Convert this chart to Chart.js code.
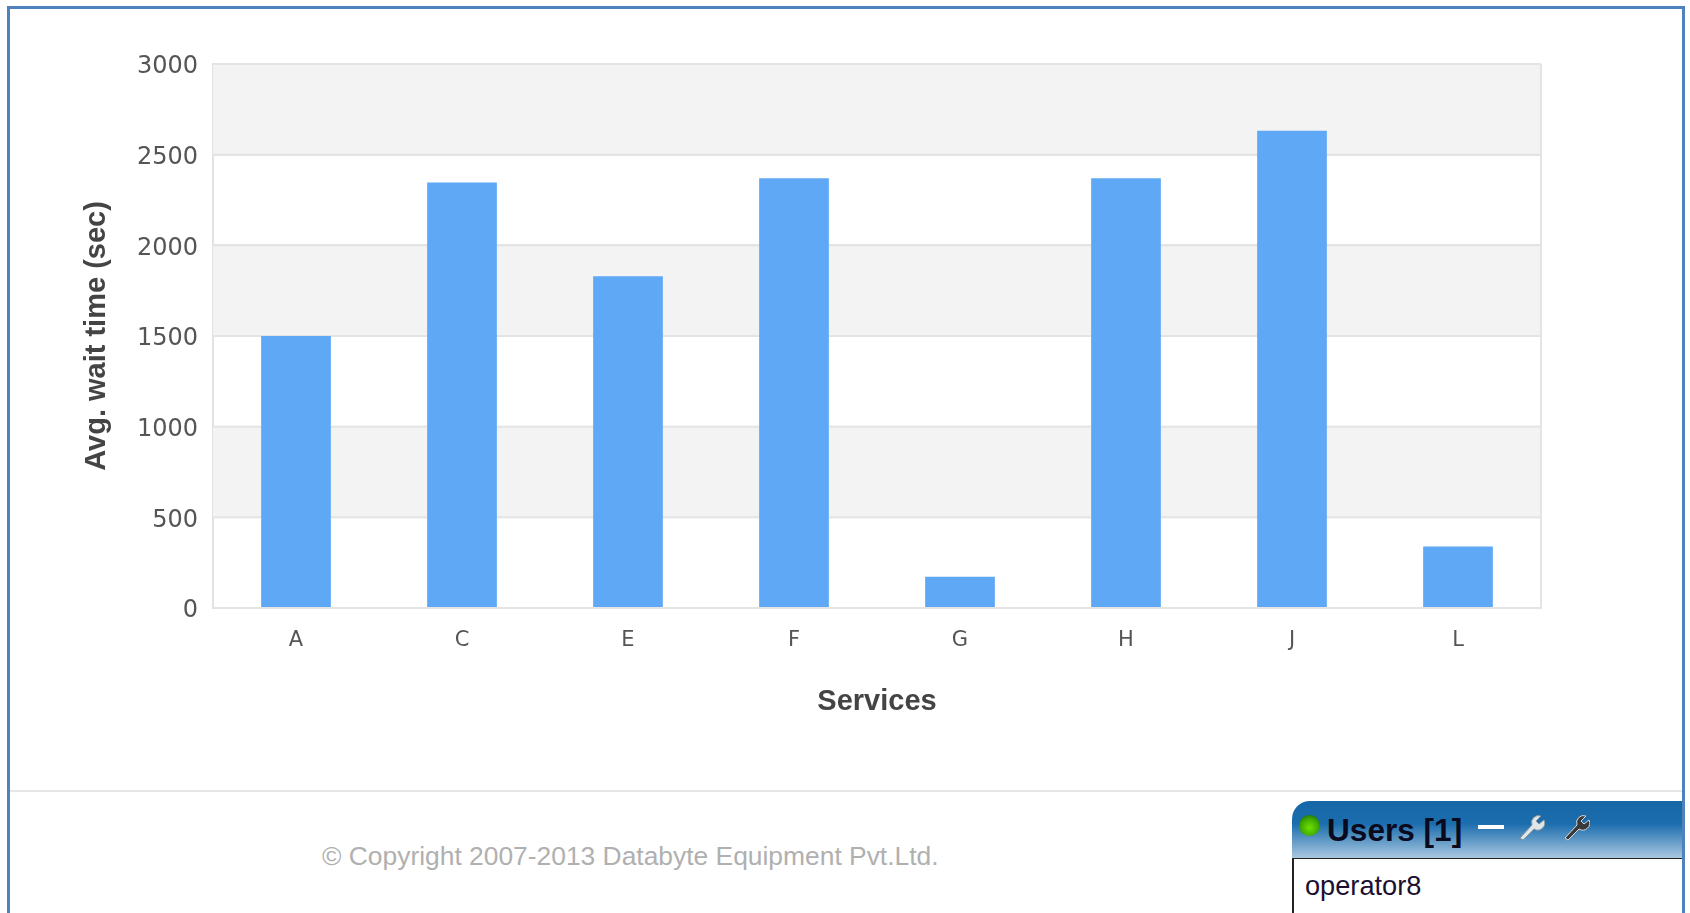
<!DOCTYPE html>
<html>
<head>
<meta charset="utf-8">
<title>Avg. wait time</title>
<script src="https://cdn.jsdelivr.net/npm/chart.js@4"></script>
<style>
  html, body { margin: 0; padding: 0; background: #fff; overflow: hidden; }
  #page { position: relative; width: 1690px; height: 913px; overflow: hidden; }
  #frame { position: absolute; left: 7px; top: 6px; width: 1678px; height: 920px; border: 3px solid #4f81bd; box-sizing: border-box; }
  #chartBox { position: absolute; left: 10px; top: 9px; width: 1669px; height: 710px; }
  #rule { position: absolute; left: 10px; right: 8px; top: 790px; height: 2px; background: #e6e6e6; }
  #copy { position: absolute; left: 322px; top: 841px; font: 26.4px "Liberation Sans", Arial, sans-serif; color: #b0b0b0; white-space: nowrap; }
  #users { position: absolute; left: 1292px; top: 801px; width: 390px; height: 112px; }
  #usersHead { height: 57px; border-radius: 18px 0 0 0; background: linear-gradient(#1667a8 0%, #1c6dae 40%, #a9c8e0 100%); position: relative; }
  #usersBody { border: 2px solid #222; border-right: 0; border-bottom: 0; background: #fff; box-sizing: border-box; height: 56px; margin-top: -1px; }
  #dot { position: absolute; left: 7px; top: 14px; width: 21px; height: 21px; border-radius: 50%; background: radial-gradient(circle at 50% 60%, #6fe000 0%, #3fa800 55%, #0a4a08 100%); }
  #usersTitle { position: absolute; left: 35px; top: 11px; font: bold 31.6px "Liberation Sans", Arial, sans-serif; color: #0a0a1e; white-space: nowrap; }
  #dash { position: absolute; left: 186px; top: 24px; width: 26px; height: 4px; background: #fff; }
  .wrench { position: absolute; top: 12px; width: 28px; height: 28px; }
  #opName { position: absolute; left: 13px; top: 69px; font: 27.2px "Liberation Sans", Arial, sans-serif; color: #1a1030; }
</style>
</head>
<body>
<div id="page">
  <div id="frame"></div>
  <div id="chartBox"><canvas id="waitChart"></canvas></div>
  <div id="rule"></div>
  <div id="copy">© Copyright 2007-2013 Databyte Equipment Pvt.Ltd.</div>
  <div id="users">
    <div id="usersHead">
      <div id="dot"></div>
      <div id="usersTitle">Users [1]</div>
      <div id="dash"></div>
      <svg class="wrench" style="left:225px" viewBox="0 0 28 28"><path d="M3 25 L15 12 A7 7 0 0 1 24 3 L19 8 L22 11 L27 7 A7 7 0 0 1 17 16 L6 27 Z" fill="#dfe6ea" stroke="#8a949a" stroke-width="1"/></svg>
      <svg class="wrench" style="left:270px" viewBox="0 0 28 28"><path d="M3 25 L15 12 A7 7 0 0 1 24 3 L19 8 L22 11 L27 7 A7 7 0 0 1 17 16 L6 27 Z" fill="#3a3a3a" stroke="#d8d8d8" stroke-width="1"/></svg>
    </div>
    <div id="usersBody"></div>
    <div id="opName">operator8</div>
  </div>
</div>
<script>
const services = ["A", "C", "E", "F", "G", "H", "J", "L"];
const waitTimes = [1500, 2347, 1830, 2370, 172, 2370, 2632, 339];
const yTicks = [0, 500, 1000, 1500, 2000, 2500, 3000];

const bandPlugin = {
  id: "bands",
  beforeDatasetsDraw(chart) {
    const { ctx, chartArea, scales } = chart;
    ctx.save();
    ctx.fillStyle = "#f3f3f3";
    for (let i = 1; i < yTicks.length; i += 2) {
      const top = scales.y.getPixelForValue(yTicks[i + 1]);
      const bottom = scales.y.getPixelForValue(yTicks[i]);
      ctx.fillRect(chartArea.left, top, chartArea.width, bottom - top);
    }
    // grid gets covered by the bands, so draw it again on top
    ctx.fillStyle = "#e4e4e4";
    yTicks.forEach((t) => {
      ctx.fillRect(chartArea.left, scales.y.getPixelForValue(t) - 1, chartArea.width, 2);
    });
    ctx.fillRect(chartArea.right - 1, chartArea.top, 2, chartArea.height);
    ctx.restore();
  },
};

new Chart(document.getElementById("waitChart"), {
  type: "bar",
  data: {
    labels: services,
    datasets: [
      {
        label: "Avg. wait time (sec)",
        data: waitTimes,
        backgroundColor: "#5fa8f5",
        barPercentage: 0.42,
        categoryPercentage: 1,
      },
    ],
  },
  options: {
    responsive: true,
    maintainAspectRatio: false,
    animation: false,
    layout: { padding: { top: 55, right: 138, bottom: 0, left: 70 } },
    plugins: { legend: { display: false }, tooltip: { enabled: false } },
    scales: {
      x: {
        grid: { display: false, drawTicks: false },
        border: { color: "#e2e2e2", width: 2 },
        ticks: { color: "#555", font: { family: "DejaVu Sans", size: 21 }, padding: 20 },
        title: {
          display: true,
          text: "Services",
          color: "#444",
          font: { family: "Liberation Sans", size: 29, weight: "bold" },
          padding: { top: 11, bottom: 0 },
        },
      },
      y: {
        min: 0,
        max: 3000,
        grid: { color: "#e4e4e4", lineWidth: 2, drawTicks: false },
        border: { color: "#e2e2e2", width: 2 },
        ticks: {
          stepSize: 500,
          color: "#555",
          font: { family: "DejaVu Sans", size: 24 },
          padding: 15,
          labelOffset: 3,
          callback: (value) => String(value),
        },
        title: {
          display: true,
          text: "Avg. wait time (sec)",
          color: "#444",
          font: { family: "Liberation Sans", size: 29, weight: "bold" },
          padding: { top: 0, bottom: 0 },
        },
        afterFit(scale) {
          scale.width = 133;
        },
      },
    },
  },
  plugins: [bandPlugin],
});
</script>
</body>
</html>
